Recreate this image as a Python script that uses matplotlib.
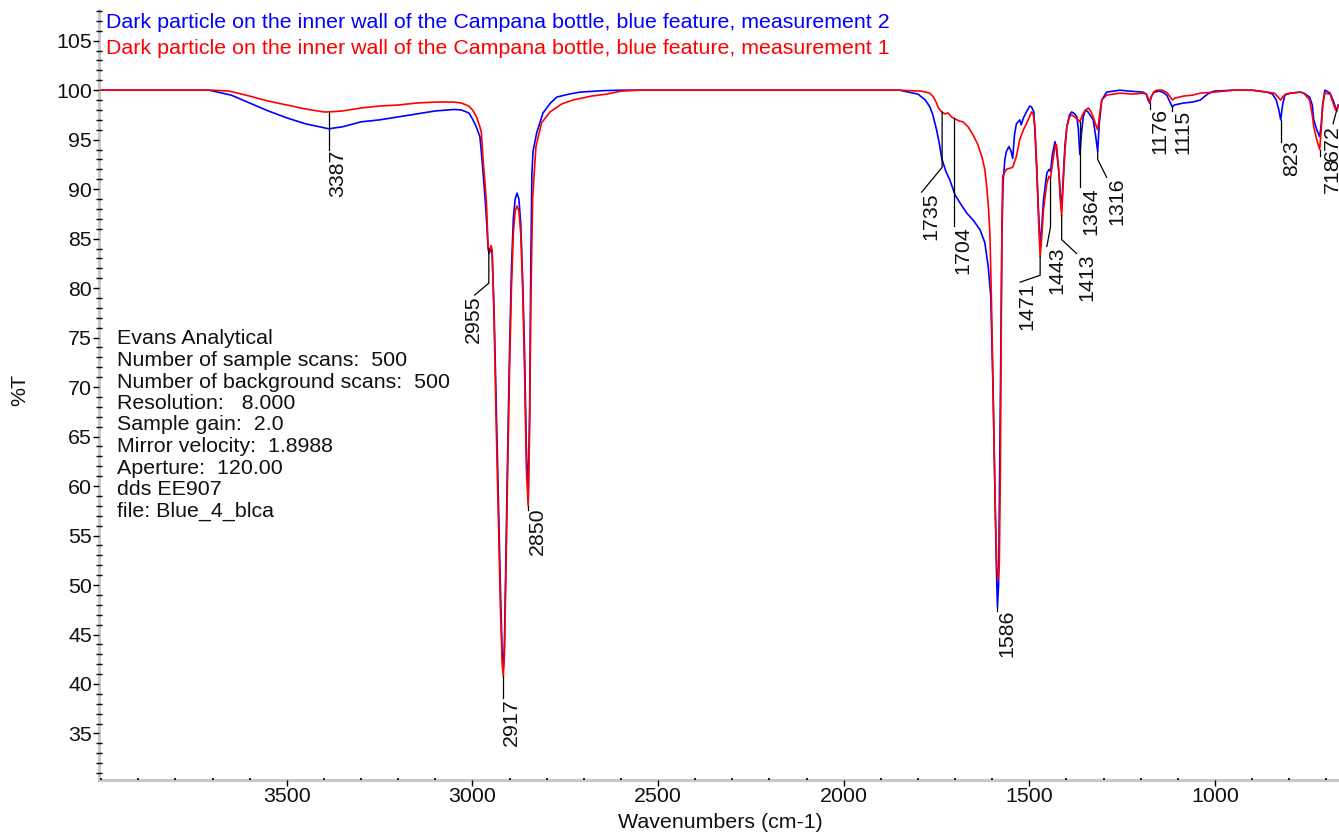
import matplotlib
matplotlib.use("Agg")
import matplotlib.pyplot as plt
from matplotlib.ticker import MultipleLocator

plt.rcParams['font.family'] = ['Liberation Sans', 'DejaVu Sans']

wn_m2 = [4000, 3800, 3710, 3650, 3600, 3550, 3500, 3450, 3400, 3387, 3350, 3300,
         3250, 3200, 3150, 3100, 3050, 3030, 3010, 3000, 2990, 2980, 2975, 2970,
         2965, 2961, 2958, 2955, 2950, 2947, 2942, 2936, 2930, 2925, 2920, 2917,
         2914, 2910, 2905, 2900, 2895, 2890, 2885, 2880, 2875, 2870, 2865, 2860,
         2855, 2850, 2846, 2843, 2840, 2837, 2827, 2810, 2790, 2773, 2740, 2711,
         2650, 2600, 1850, 1800, 1780, 1768, 1760, 1750, 1742, 1736, 1725, 1714,
         1700, 1685, 1669, 1650, 1633, 1620, 1611, 1604, 1598, 1593, 1589, 1586,
         1583, 1580, 1577, 1574, 1571, 1566, 1562, 1555, 1549, 1545, 1540, 1535,
         1526, 1522, 1516, 1508, 1499, 1494, 1488, 1484, 1480, 1476, 1471, 1467,
         1462, 1453, 1447, 1443, 1438, 1431, 1427, 1420, 1416, 1413, 1409, 1404,
         1399, 1392, 1386, 1378, 1372, 1368, 1364, 1360, 1355, 1349, 1342, 1335,
         1328, 1322, 1316, 1312, 1305, 1292, 1256, 1230, 1194, 1185, 1180, 1176,
         1172, 1165, 1150, 1141, 1130, 1120, 1115, 1110, 1085, 1060, 1040, 1020,
         1003, 950, 900, 860, 845, 835, 828, 823, 818, 812, 797, 770,
         761, 745, 738, 734, 726, 718, 714, 710, 704, 690, 680, 675,
         672, 668]
t_m2 = [100.0, 100.0, 100.0, 99.5, 98.7, 97.9, 97.2, 96.6, 96.2, 96.1, 96.3, 96.8,
        97.0, 97.3, 97.6, 97.9, 98.05, 98.0, 97.7, 97.1, 96.3, 95.3, 93.3, 91.0,
        88.5, 86.2, 84.0, 83.5, 84.0, 83.5, 78.0, 68.0, 58.0, 50.0, 43.0, 41.5,
        44.0, 53.0, 64.0, 74.0, 82.0, 87.0, 89.0, 89.6, 89.0, 86.5, 81.0, 74.0,
        64.0, 58.5, 68.0, 82.0, 91.5, 93.8, 95.7, 97.7, 98.7, 99.3, 99.6, 99.8,
        99.95, 100.0, 100.0, 99.6, 99.0, 98.3, 97.5, 96.0, 94.5, 93.1, 91.8, 90.9,
        89.4, 88.5, 87.6, 86.8, 85.9, 84.6, 82.2, 79.2, 70.0, 60.0, 52.0, 47.8,
        50.0, 62.0, 75.0, 85.0, 90.6, 93.0, 93.8, 94.3, 93.8, 93.1, 95.5, 96.6,
        97.0, 96.5, 97.2, 97.8, 98.4, 98.3, 97.8, 95.0, 91.6, 88.0, 84.2, 86.0,
        88.9, 91.6, 92.0, 91.8, 93.5, 94.8, 94.0, 91.5, 89.0, 88.3, 91.0, 94.5,
        96.3, 97.5, 97.8, 97.6, 97.3, 96.0, 93.5, 95.5, 97.3, 98.0, 97.8, 97.4,
        97.0, 95.5, 93.8, 96.5, 99.0, 99.8, 100.0, 99.9, 99.8, 99.6, 99.0, 98.7,
        99.3, 99.8, 99.9, 99.8, 99.5, 98.7, 98.3, 98.5, 98.7, 98.8, 99.0, 99.6,
        99.9, 100.0, 100.0, 99.8, 99.6, 99.0, 98.0, 97.0, 98.5, 99.5, 99.7, 99.8,
        99.7, 99.3, 98.5, 97.0, 96.0, 95.3, 96.5, 98.5, 100.0, 99.7, 98.8, 98.2,
        98.0, 98.5]

# measurement 1 (red trace)
wn_m1 = [4000, 3800, 3700, 3654, 3600, 3550, 3500, 3450, 3400, 3387, 3350, 3300,
         3250, 3200, 3150, 3100, 3050, 3030, 3010, 3000, 2989, 2980, 2976, 2971,
         2966, 2962, 2958, 2955, 2950, 2947, 2942, 2936, 2930, 2925, 2920, 2917,
         2914, 2910, 2905, 2900, 2895, 2890, 2885, 2880, 2875, 2870, 2865, 2860,
         2855, 2850, 2846, 2843, 2838, 2835, 2829, 2814, 2791, 2760, 2730, 2680,
         2639, 2600, 2550, 1850, 1790, 1768, 1758, 1750, 1745, 1736, 1728, 1719,
         1710, 1700, 1690, 1679, 1665, 1652, 1640, 1628, 1620, 1615, 1610, 1606,
         1602, 1597, 1592, 1588, 1584, 1581, 1578, 1576, 1574, 1572, 1562, 1545,
         1535, 1526, 1516, 1508, 1500, 1494, 1489, 1485, 1480, 1476, 1471, 1467,
         1462, 1453, 1447, 1443, 1437, 1431, 1427, 1421, 1416, 1413, 1409, 1404,
         1399, 1392, 1386, 1378, 1372, 1364, 1357, 1349, 1341, 1335, 1328, 1322,
         1316, 1311, 1305, 1292, 1256, 1220, 1194, 1185, 1180, 1176, 1172, 1165,
         1158, 1141, 1128, 1120, 1115, 1108, 1085, 1060, 1040, 1003, 950, 900,
         860, 840, 830, 823, 818, 810, 797, 770, 761, 745, 738, 734,
         726, 718, 714, 710, 704, 690, 680, 675, 672, 668]
t_m1 = [100.0, 100.0, 100.0, 99.9, 99.4, 98.9, 98.5, 98.1, 97.8, 97.8, 97.9, 98.2,
        98.4, 98.5, 98.7, 98.8, 98.8, 98.7, 98.4, 98.0, 97.3, 96.3, 95.7, 92.7,
        90.5, 88.3, 84.2, 83.6, 84.3, 83.8, 77.0, 66.0, 56.0, 48.0, 42.0, 40.8,
        43.0, 51.0, 62.0, 72.0, 80.0, 85.5, 87.8, 88.3, 87.8, 85.5, 80.0, 72.0,
        62.0, 58.0, 66.0, 78.0, 89.0, 90.9, 94.3, 96.7, 97.8, 98.6, 99.0, 99.4,
        99.6, 99.9, 100.0, 100.0, 99.9, 99.7, 99.3, 98.7, 98.2, 97.8, 97.6, 97.7,
        97.3, 97.1, 96.9, 96.8, 96.3, 95.5, 94.6, 93.3, 92.0, 90.3, 88.0, 85.2,
        78.5, 68.0, 58.0, 52.0, 50.5, 52.0, 62.0, 75.0, 86.0, 91.3, 92.0, 92.2,
        93.3, 95.0, 96.0, 96.6, 97.3, 97.8, 97.5, 96.3, 92.3, 87.5, 83.2, 85.0,
        87.9, 90.6, 91.3, 91.1, 92.8, 94.3, 94.5, 92.0, 88.5, 87.3, 90.5, 94.0,
        96.3, 97.3, 97.5, 97.3, 97.1, 96.8, 97.5, 98.0, 98.2, 97.9, 97.3, 96.6,
        96.0, 97.5, 99.0, 99.5, 99.7, 99.6, 99.7, 99.6, 99.2, 98.8, 99.3, 99.8,
        100.0, 100.0, 99.7, 99.3, 99.0, 99.2, 99.4, 99.5, 99.7, 99.8, 100.0, 100.0,
        99.8, 99.7, 99.3, 99.0, 99.3, 99.6, 99.7, 99.8, 99.7, 99.0, 97.5, 96.3,
        95.0, 94.0, 96.0, 98.5, 99.7, 99.6, 98.5, 98.0, 97.9, 98.4]

title_m2 = "Dark particle on the inner wall of the Campana bottle, blue feature, measurement 2"
title_m1 = "Dark particle on the inner wall of the Campana bottle, blue feature, measurement 1"

info_lines = ["Evans Analytical",
              "Number of sample scans:  500",
              "Number of background scans:  500",
              "Resolution:   8.000",
              "Sample gain:  2.0",
              "Mirror velocity:  1.8988",
              "Aperture:  120.00",
              "dds EE907",
              "file: Blue_4_blca"]

peak_labels = ["3387", "2955", "2917", "2850", "1735", "1704", "1586", "1471", "1443",
               "1413", "1364", "1316", "1176", "1115", "823", "718", "672"]

# leader line (wavenumber, %T) points and text anchor for every peak label
leaders = [
    ([(3387, 97.8), (3387, 94.0)], (3362, 94.0)),
    ([(2956, 84.0), (2956, 80.5), (2994, 79.3)], (2998, 79.3)),
    ([(2917, 40.8), (2917, 38.6)], (2895, 38.6)),
    ([(2850, 58.0), (2850, 57.6)], (2826, 57.8)),
    ([(1735, 97.8), (1735, 92.2), (1790, 89.7)], (1764, 89.7)),
    ([(1704, 97.2), (1704, 86.3)], (1678, 86.3)),
    ([(1586, 47.8), (1586, 47.4)], (1560, 47.5)),
    ([(1471, 83.2), (1471, 81.3), (1525, 80.6)], (1508, 80.6)),
    ([(1443, 91.1), (1443, 86.2), (1453, 84.2)], (1426, 84.2)),
    ([(1413, 87.3), (1413, 84.9), (1373, 83.5)], (1345, 83.5)),
    ([(1364, 96.8), (1364, 90.2)], (1334, 90.2)),
    ([(1316, 93.8), (1316, 93.0), (1292, 91.2)], (1264, 91.2)),
    ([(1176, 98.7), (1176, 98.1)], (1148, 98.2)),
    ([(1115, 98.3), (1115, 97.9)], (1086, 98.0)),
    ([(823, 97.0), (823, 94.8)], (793, 94.9)),
    ([(718, 94.0), (718, 93.3)], (685, 93.2)),
    ([(672, 98.0), (682, 96.6)], (685, 96.5)),
]

W, H = 1339, 836
FS = 15.4


def fx(x):
    return x / W


def fy(y):
    return 1 - y / H


fig = plt.figure(figsize=(W / 100, H / 100), dpi=100)
ax = fig.add_axes([fx(99), fy(780), 1 - fx(99), fy(10) - fy(780)])

ax.plot(wn_m2, t_m2, color='#0000ff', lw=1.2, zorder=3)
ax.plot(wn_m1, t_m1, color='#ff0000', lw=1.2, zorder=4)

for lab, (path, (tx, ty)) in zip(peak_labels, leaders):
    xs = [p[0] for p in path]
    ys = [p[1] for p in path]
    ax.plot(xs, ys, color='black', lw=0.9, zorder=5)
    ax.text(tx, ty, lab, rotation=90, ha='center', va='top',
            fontsize=FS, color='#111111', zorder=6)

ax.set_xlim(4006, 666)
ax.set_ylim(30.3, 108.1)

ax.set_xticks([3500, 3000, 2500, 2000, 1500, 1000])
ax.set_yticks(range(35, 106, 5))
ax.xaxis.set_minor_locator(MultipleLocator(100))
ax.yaxis.set_minor_locator(MultipleLocator(1))

ax.tick_params(which='major', direction='out', length=4, width=1,
               color='black', labelsize=FS, labelcolor='#111111', pad=1)
ax.tick_params(axis='y', which='minor', direction='inout', length=4, width=1, color='black')
ax.tick_params(axis='x', which='minor', direction='in', length=1.5, width=1.2, color='black')

for s in ['top', 'right']:
    ax.spines[s].set_visible(False)
for s in ['left', 'bottom']:
    ax.spines[s].set_color('#c8c8c8')
    ax.spines[s].set_linewidth(2.2)
    ax.spines[s].set_zorder(0.5)

# titles of the two traces
fig.text(fx(106), fy(23), title_m2, color='#0000ff', fontsize=FS, va='center', ha='left')
fig.text(fx(106), fy(48), title_m1, color='#ff0000', fontsize=FS, va='center', ha='left')

# instrument info block
for i, line in enumerate(info_lines):
    fig.text(fx(117), fy(339 + i * 21.5), line, fontsize=FS, va='center', ha='left',
             color='#111111')

fig.text(fx(720), fy(823), "Wavenumbers (cm-1)", fontsize=FS, ha='center', va='center',
         color='#111111')
fig.text(fx(20), fy(390), "%T", fontsize=FS, rotation=90, ha='center', va='center',
         color='#111111')

fig.savefig('out.png', dpi=100)
